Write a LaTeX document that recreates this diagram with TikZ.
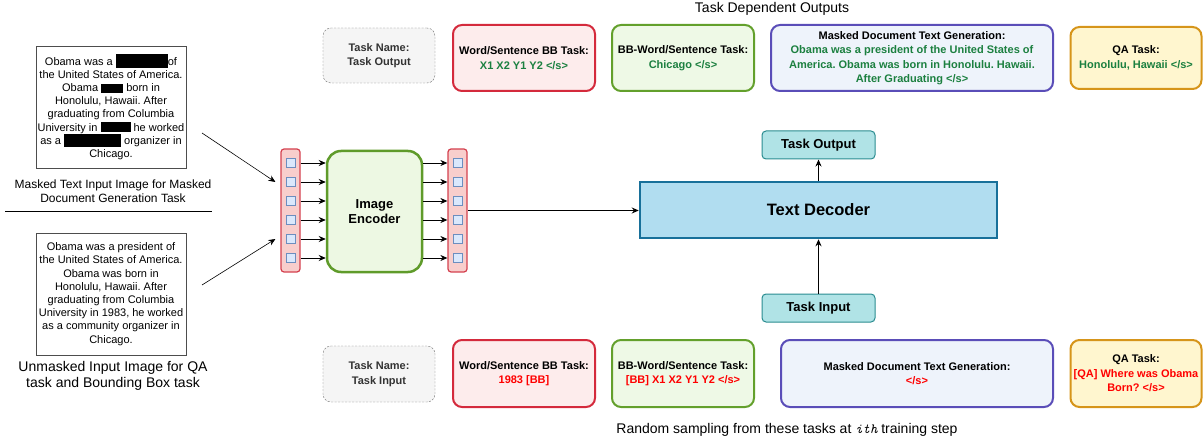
\documentclass[tikz,border=0pt]{standalone}
\usepackage{fontspec}
\setmainfont{Liberation Sans}
\usepackage{tikz}
\usetikzlibrary{positioning, arrows.meta}
\definecolor{docGrey}{HTML}{4D4D4D}
\definecolor{nameGrey}{HTML}{6E6E6E}
\definecolor{nameFill}{HTML}{F5F5F5}
\definecolor{nameText}{HTML}{333333}
\definecolor{bbRed}{HTML}{D42A3C}
\definecolor{bbFill}{HTML}{FDECEC}
\definecolor{bbwGreen}{HTML}{63A02C}
\definecolor{bbwFill}{HTML}{EEF9E6}
\definecolor{mdgPurple}{HTML}{5A4DB8}
\definecolor{mdgFill}{HTML}{EEF3FB}
\definecolor{qaYellow}{HTML}{D6951A}
\definecolor{qaFill}{HTML}{FFF6CF}
\definecolor{outGreen}{HTML}{1C8040}
\definecolor{inRed}{HTML}{FF0000}
\definecolor{colFill}{HTML}{F8CECC}
\definecolor{colLine}{HTML}{D4414F}
\definecolor{cellFill}{HTML}{DAE8FC}
\definecolor{cellLine}{HTML}{6C8EBF}
\definecolor{encFill}{HTML}{EDF8E3}
\definecolor{encLine}{HTML}{5F9B2A}
\definecolor{decFill}{HTML}{B1DDF0}
\definecolor{decLine}{HTML}{18709A}
\definecolor{ioFill}{HTML}{B0E3E6}
\definecolor{ioLine}{HTML}{2A8C90}

\begin{document}
\frenchspacing
\begin{tikzpicture}[x=1pt, y=-1pt,
  font=\fontsize{11}{14.5}\selectfont,
  doc/.style={draw=docGrey, fill=white, minimum width=150pt, minimum height=122pt, align=center, inner sep=0pt, font=\fontsize{11}{13.2}\selectfont},
  captext/.style={align=center, font=\fontsize{12}{14}\selectfont},
  task/.style={rounded corners=9pt, line width=2pt, align=center, inner sep=2pt, font=\fontsize{11}{14.5}\selectfont\bfseries, minimum width=142pt, minimum height=66pt},
  namebox/.style={draw=nameGrey, fill=nameFill, dash pattern=on 2pt off 1.5pt, rounded corners=8pt, align=center, text=nameText, font=\fontsize{11}{14.5}\selectfont\bfseries, minimum width=112pt, minimum height=55pt},
  column/.style={draw=colLine, fill=colFill, line width=1.2pt, rounded corners=3pt, minimum width=19pt, minimum height=123pt},
  cell/.style={draw=cellLine, fill=cellFill, inner sep=0pt, minimum size=9pt},
  io/.style={draw=ioLine, fill=ioFill, line width=1pt, rounded corners=4pt, minimum width=113pt, minimum height=28pt, font=\fontsize{13}{15}\selectfont\bfseries},
  arr/.style={-{Stealth[length=7pt, width=6pt]}, line width=0.8pt}]
  \useasboundingbox (0,0) rectangle (1203,441);

  % input documents
  \node[doc] (doc1) at (111,107) {Obama was a \rule[-3pt]{52pt}{14pt}of\\the United States of America.\\Obama \rule[-1pt]{22pt}{9pt} born in\\Honolulu, Hawaii. After\\graduating from Columbia\\University in \rule[-1pt]{30pt}{10pt} he worked\\as a \rule[-3pt]{57pt}{13pt} organizer in\\Chicago.};
  \node[captext] (cap1) at (113,191) {Masked Text Input Image for Masked\\Document Generation Task};
  \draw (5,211) -- (212,211);
  \node[doc] (doc2) at (111,294) {Obama was a president of\\the United States of America.\\Obama was born in\\Honolulu, Hawaii. After\\graduating from Columbia\\University in 1983, he worked\\as a community organizer in\\Chicago.};
  \node[captext, font=\fontsize{14}{16.5}\selectfont] (cap2) at (113,376) {Unmasked Input Image for QA\\task and Bounding Box task};

  % encoder
  \node[column] (incol) at (290.5,210.5) {};
  \node[draw=encLine, fill=encFill, line width=2.5pt, rounded corners=14pt, minimum width=95pt, minimum height=121pt, align=center, font=\fontsize{13}{15.7}\selectfont\bfseries] (enc) at (374.5,211.5) {Image\\Encoder};
  \node[column] (outcol) at (457.5,210.5) {};
  \foreach \i in {0,...,5} {
    \node[cell] (in\i) at (291,163+19*\i) {};
    \node[cell] (out\i) at (457.5,163+19*\i) {};
    \draw[arr] (incol.east |- in\i) -- (enc.west |- in\i);
    \draw[arr] (enc.east |- out\i) -- (outcol.west |- out\i);
  }
  \coordinate (from1) at (202,133);
  \coordinate (from2) at (202,285);
  \draw[arr, line width=0.6pt] (from1) -- ([xshift=-5pt]incol.west |- in1);
  \draw[arr, line width=0.6pt] (from2) -- ([xshift=-5pt]incol.west |- in4);

  % decoder
  \node[draw=decLine, fill=decFill, line width=2.5pt, minimum width=357pt, minimum height=56pt, font=\fontsize{16.5}{18}\selectfont\bfseries] (dec) at (818.5,210) {Text Decoder};
  \draw[arr, line width=1.3pt] (outcol.east) -- (outcol.east -| dec.west);
  \node[io] (tout) at (818.5,145) {Task Output};
  \node[io] (tin) at (818.5,308) {Task Input};
  \draw[arr] (dec.north) -- (tout.south);
  \draw[arr] (tin.north) -- (dec.south);

  % task dependent outputs
  \node[font=\fontsize{14}{16}\selectfont] (toptitle) at (772,9) {Task Dependent Outputs};
  \node[namebox] (tnout) at (379,55.5) {Task Name:\\Task Output};
  \node[task, draw=bbRed, fill=bbFill] (bbout) at (524,58) {Word/Sentence BB Task:\\\color{outGreen}X1 X2 Y1 Y2 </s>};
  \node[task, draw=bbwGreen, fill=bbwFill] (bbwout) at (683,58) {BB-Word/Sentence Task:\\\color{outGreen}Chicago </s>};
  \node[task, draw=mdgPurple, fill=mdgFill, minimum width=282pt] (mdgout) at (912,58) {Masked Document Text Generation:\\\color{outGreen}Obama was a president of the United States of\\\color{outGreen}America. Obama was born in Honolulu. Hawaii.\\\color{outGreen}After Graduating </s>};
  \node[task, draw=qaYellow, fill=qaFill, minimum width=131pt, minimum height=62pt] (qaout) at (1136,58) {QA Task:\\\color{outGreen}Honolulu, Hawaii </s>};

  % sampled task inputs
  \node[namebox, minimum height=56pt] (tnin) at (379,374) {Task Name:\\Task Input};
  \node[task, draw=bbRed, fill=bbFill, minimum height=67pt] (bbin) at (524,373.5) {Word/Sentence BB Task:\\\color{inRed}1983 [BB]};
  \node[task, draw=bbwGreen, fill=bbwFill, minimum height=67pt] (bbwin) at (683,373.5) {BB-Word/Sentence Task:\\\color{inRed}[BB] X1 X2 Y1 Y2 </s>};
  \node[task, draw=mdgPurple, fill=mdgFill, minimum width=272pt, minimum height=67pt] (mdgin) at (917,373.5) {Masked Document Text Generation:\\\color{inRed}</s>};
  \node[task, draw=qaYellow, fill=qaFill, minimum width=131pt, minimum height=67pt] (qain) at (1136,373.5) {QA Task:\\\color{inRed}[QA] Where was Obama\\\color{inRed}Born? </s>};
  \node[font=\fontsize{14}{16}\selectfont] (bottitle) at (787,430) {Random sampling from these tasks at {\ttfamily\itshape ith} training step};
\end{tikzpicture}
\end{document}
